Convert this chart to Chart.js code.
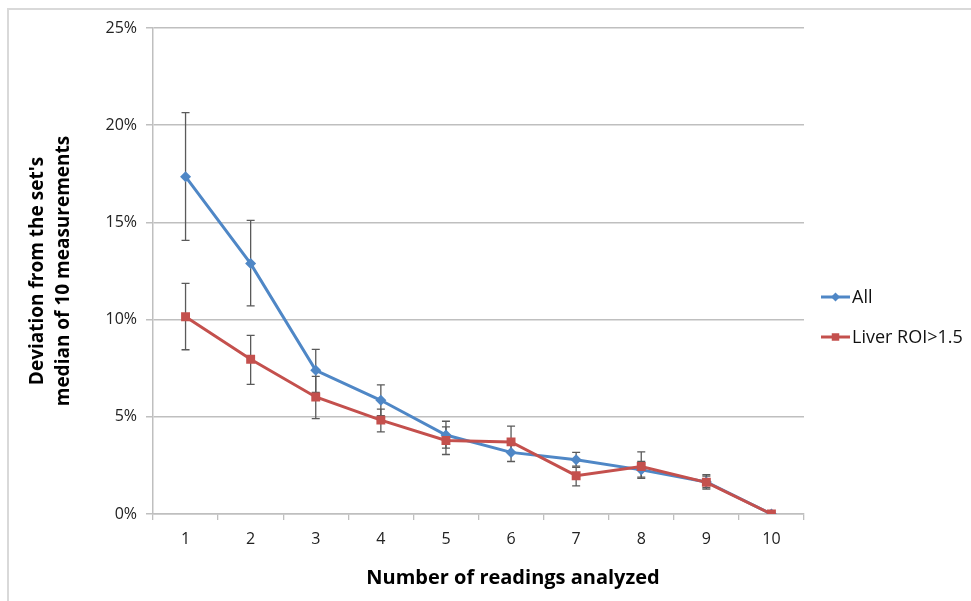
<!DOCTYPE html>
<html>
<head>
<meta charset="utf-8">
<style>
    body { margin: 0; background: #fff; }
    #wrap { position: relative; width: 971px; height: 601px; overflow: hidden; }
    #frame { position: absolute; left: 7px; top: 8px; width: 1000px; height: 700px;
             border-left: 2px solid #d9d9d9; border-top: 2px solid #d9d9d9; }
    #deviation-chart { position: absolute; left: 0; top: 0; }
</style>
</head>
<body>
<div id="wrap">
    <div id="frame"></div>
    <canvas id="deviation-chart" width="971" height="601"></canvas>
</div>

<script src="https://cdn.jsdelivr.net/npm/chart.js"></script>
<script>
const categories = ['1', '2', '3', '4', '5', '6', '7', '8', '9', '10'];

// deviation in percent, with the low / high ends of each error bar
const allValues = [17.35, 12.88, 7.39, 5.85, 4.06, 3.17, 2.79, 2.27, 1.65, 0];
const allLow    = [14.08, 10.71, 6.25, 5.06, 3.39, 2.70, 2.46, 1.90, 1.35, 0];
const allHigh   = [20.65, 15.10, 8.47, 6.64, 4.77, 3.60, 3.17, 2.70, 1.95, 0];

const liverValues = [10.15, 7.96, 6.02, 4.83, 3.78, 3.71, 1.97, 2.44, 1.63, 0];
const liverLow    = [8.45, 6.67, 4.91, 4.22, 3.06, 3.20, 1.45, 1.83, 1.28, 0];
const liverHigh   = [11.86, 9.19, 7.08, 5.39, 4.48, 4.52, 2.40, 3.20, 2.02, 0];

const yTicks = [0, 5, 10, 15, 20, 25];

const FONT = '"Open Sans", "Liberation Sans", sans-serif';
const BLUE = '#4f87c6';
const RED = '#c4504d';

const errorBars = [
    { low: allLow, high: allHigh },
    { low: liverLow, high: liverHigh },
];

// vertical error bars with small caps, drawn under the lines
const errorBarPlugin = {
    id: 'errorBars',
    beforeDatasetsDraw(chart) {
        const ctx = chart.ctx;
        const x = chart.scales.x;
        const y = chart.scales.y;
        ctx.save();
        ctx.strokeStyle = '#5a5a5a';
        ctx.lineWidth = 1.3;
        errorBars.forEach(function(bar) {
            bar.low.forEach(function(lo, i) {
                const hi = bar.high[i];
                if (hi === lo) return;
                const px = x.getPixelForValue(i);
                const y1 = y.getPixelForValue(lo);
                const y2 = y.getPixelForValue(hi);
                ctx.beginPath();
                ctx.moveTo(px, y1);
                ctx.lineTo(px, y2);
                ctx.moveTo(px - 4, y1);
                ctx.lineTo(px + 4, y1);
                ctx.moveTo(px - 4, y2);
                ctx.lineTo(px + 4, y2);
                ctx.stroke();
            });
        });
        ctx.restore();
    }
};

// legend on the right: line sample with marker, then the label
const sideLegendPlugin = {
    id: 'sideLegend',
    afterDraw(chart) {
        const ctx = chart.ctx;
        const area = chart.chartArea;
        const left = area.right + 17;
        ctx.save();
        ctx.font = '18px ' + FONT;
        ctx.textBaseline = 'middle';
        ctx.textAlign = 'left';
        chart.data.datasets.slice().reverse().forEach(function(ds, k) {
            const cy = area.top + 269 + k * 40;
            ctx.strokeStyle = ds.borderColor;
            ctx.lineWidth = 3;
            ctx.beginPath();
            ctx.moveTo(left, cy);
            ctx.lineTo(left + 29, cy);
            ctx.stroke();
            ctx.fillStyle = ds.pointBackgroundColor;
            Chart.helpers.drawPoint(ctx, {
                pointStyle: ds.pointStyle,
                radius: ds.pointRadius - 1,
                rotation: 0,
                borderWidth: 0
            }, left + 14.5, cy);
            ctx.fillStyle = '#111';
            ctx.fillText(ds.label, left + 31, cy + 1);
        });
        ctx.restore();
    }
};

// x axis title, centred on the full frame width
const xTitlePlugin = {
    id: 'xTitle',
    afterDraw(chart) {
        const ctx = chart.ctx;
        ctx.save();
        ctx.font = 'bold 20px ' + FONT;
        ctx.fillStyle = '#000';
        ctx.textAlign = 'center';
        ctx.textBaseline = 'middle';
        ctx.fillText('Number of readings analyzed', 513, 578);
        ctx.restore();
    }
};

const config = {
    type: 'line',
    data: {
        labels: categories,
        datasets: [
            {
                label: 'Liver ROI>1.5',
                data: liverValues,
                borderColor: RED,
                backgroundColor: RED,
                pointBackgroundColor: RED,
                pointBorderColor: RED,
                pointStyle: 'rect',
                pointRadius: 6.3,
                pointBorderWidth: 0,
                borderWidth: 3,
                tension: 0,
                order: 0,
            },
            {
                label: 'All',
                data: allValues,
                borderColor: BLUE,
                backgroundColor: BLUE,
                pointBackgroundColor: BLUE,
                pointBorderColor: BLUE,
                pointStyle: 'rectRot',
                pointRadius: 5.5,
                pointBorderWidth: 0,
                borderWidth: 3,
                tension: 0,
                order: 1,
            },
        ],
    },
    options: {
        responsive: false,
        animation: false,
        layout: {
            padding: { left: 0, top: 28, right: 167, bottom: 0 }
        },
        plugins: {
            legend: { display: false },
            tooltip: { enabled: false },
        },
        scales: {
            x: {
                offset: true,
                grid: {
                    offset: true,
                    drawOnChartArea: false,
                    drawTicks: true,
                    tickLength: 6,
                    color: '#bfbfbf',
                    lineWidth: 1.3,
                },
                border: { color: '#bfbfbf', width: 1.5 },
                ticks: {
                    font: { family: FONT, size: 16 },
                    color: '#222',
                    padding: 10,
                },
                afterFit(scale) { scale.height = 87; },
            },
            y: {
                min: 0,
                max: 25,
                afterBuildTicks(scale) {
                    scale.ticks = yTicks.map(function(v) { return { value: v }; });
                },
                grid: {
                    color: '#bfbfbf',
                    lineWidth: 1.5,
                    drawTicks: true,
                    tickLength: 7,
                },
                border: { color: '#bfbfbf', width: 1.5 },
                ticks: {
                    font: { family: FONT, size: 16 },
                    color: '#222',
                    padding: 9,
                    callback: function(v) { return v + '%'; },
                },
                title: {
                    display: true,
                    text: ["Deviation from the set's", 'median of 10 measurements'],
                    font: { family: FONT, size: 19, weight: 'bold', lineHeight: '26px' },
                    color: '#000',
                    padding: { top: 25, bottom: 0 },
                },
                afterFit(scale) { scale.width = 153; },
            },
        },
    },
    plugins: [errorBarPlugin, sideLegendPlugin, xTitlePlugin],
};

const ctx = document.getElementById('deviation-chart').getContext('2d');
new Chart(ctx, config);
</script>
</body>
</html>
